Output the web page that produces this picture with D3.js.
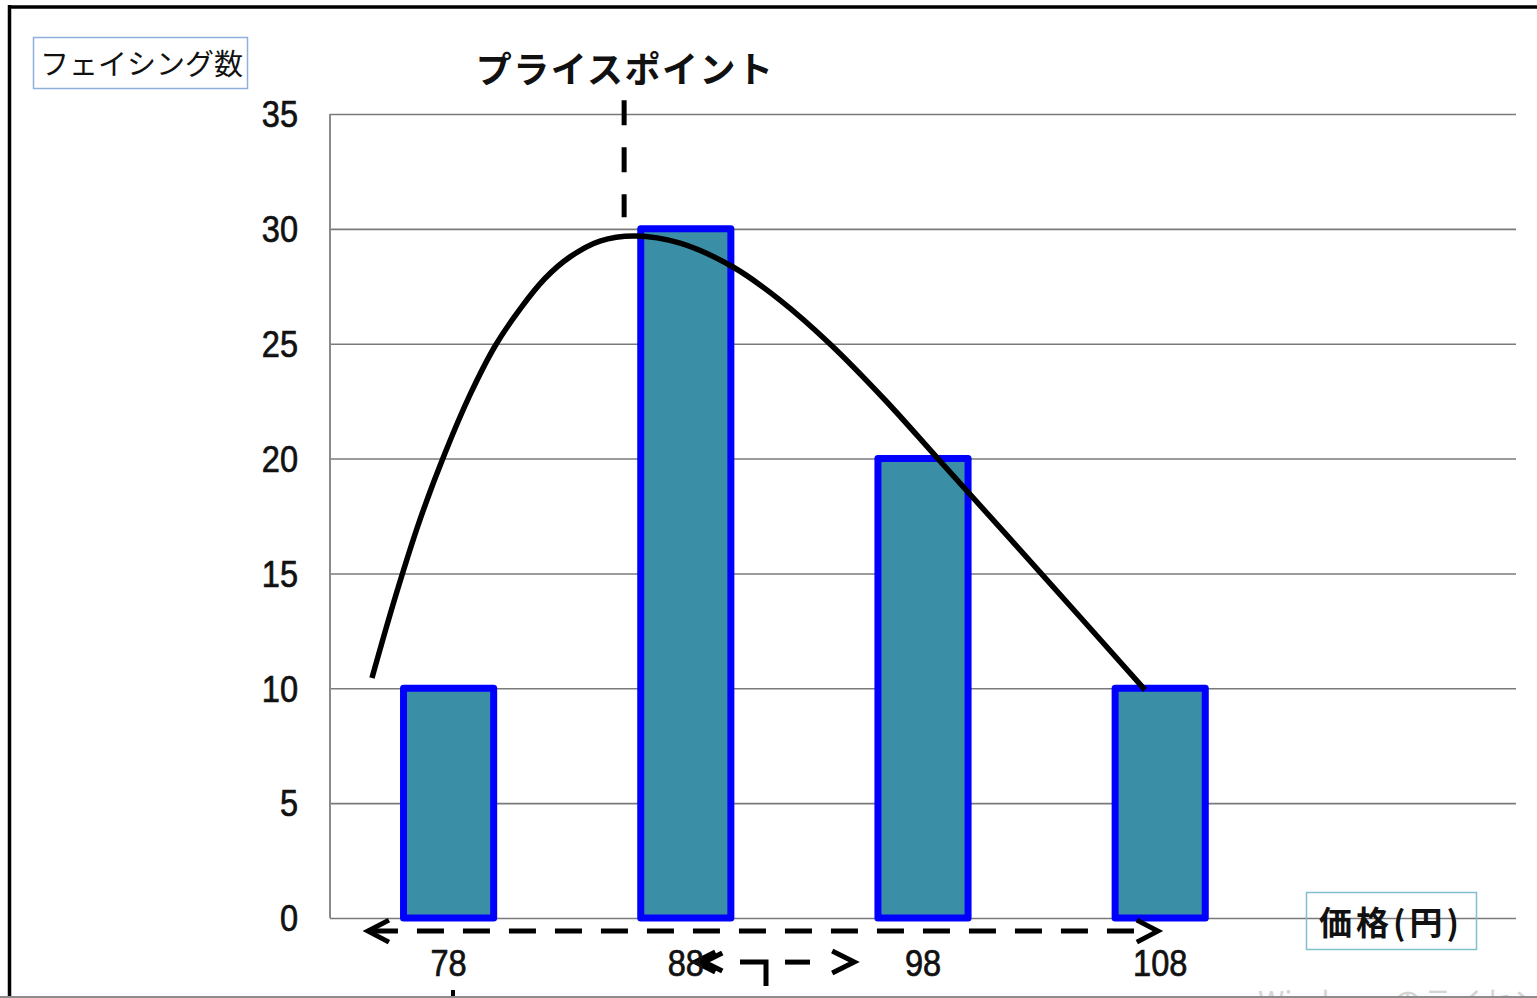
<!DOCTYPE html>
<html>
<head>
<meta charset="utf-8">
<script src="https://cdn.jsdelivr.net/npm/d3@7"></script>
<style>
  html, body { margin: 0; padding: 0; background: #fff; }
  svg { display: block; }
</style>
</head>
<body>
<div id="chart"></div>
<script>
// Facings per price point
const prices = [78, 88, 98, 108];
const facings = [10, 30, 20, 10];
const priceLabels = ["78", "88", "98", "108"];
const yTicks = [0, 5, 10, 15, 20, 25, 30, 35];

// Hand-drawn demand curve (price, facings)
const curvePrices = [74.77, 75.74, 76.79, 77.85, 78.90, 79.96, 81.01, 82.06, 83.12, 84.38, 85.86,
                     87.76, 89.99, 91.97, 94.08, 96.40, 98.72, 102.93, 107.36];
const curveValues = [10.45, 13.93, 17.33, 20.24, 22.77, 24.90, 26.51, 27.84, 28.78, 29.47, 29.69,
                     29.38, 28.34, 26.90, 24.99, 22.55, 19.89, 15.06, 9.93];

// Price point marker and range arrows
const pricePoint = 85.4;
const pricePointSpan = [35.6, 30.5];
const rangeArrow = { from: 74.6, to: 107.9, level: -0.57 };
const subArrow = { from: 88.4, to: 95.1, level: -1.92 };

const W = 1537, H = 998;
const svg = d3.select("#chart").append("svg")
  .attr("width", W).attr("height", H)
  .style("background", "#fff");

const x = d3.scaleLinear().domain([73, 123]).range([330, 1516]);
const y = d3.scaleLinear().domain([0, 35]).range([918, 114]);

// Outer frame
svg.append("line").attr("x1", 9.5).attr("x2", 9.5).attr("y1", 5).attr("y2", 996)
  .attr("stroke", "#000").attr("stroke-width", 3.5);
svg.append("line").attr("x1", 8).attr("x2", W).attr("y1", 7).attr("y2", 7)
  .attr("stroke", "#000").attr("stroke-width", 3.5);

// Gridlines via axis
const grid = svg.append("g").attr("transform", `translate(${x(73)},0)`)
  .call(d3.axisLeft(y).tickValues(yTicks).tickSize(-(x(123) - x(73))).tickFormat(""));
grid.select(".domain").remove();
grid.selectAll(".tick line").attr("stroke", "#7a7a7a").attr("stroke-width", 1.6);

// Y axis line
svg.append("line").attr("x1", x(73)).attr("x2", x(73)).attr("y1", y(35)).attr("y2", y(0))
  .attr("stroke", "#8a8a8a").attr("stroke-width", 2);

// Y tick labels
svg.append("g").selectAll("text").data(yTicks).join("text")
  .attr("transform", d => `translate(298,${y(d)}) scale(0.88,1)`)
  .attr("text-anchor", "end")
  .attr("dominant-baseline", "central")
  .attr("font-family", "'Liberation Sans', Arial, sans-serif")
  .attr("font-size", 37)
  .attr("fill", "#111").attr("stroke", "#111").attr("stroke-width", 0.7)
  .text(d => d);

// Bars
const bw = x(73 + 3.8) - x(73);
svg.append("g").selectAll("rect").data(prices).join("rect")
  .attr("x", (d) => x(d) - bw / 2)
  .attr("y", (d, i) => y(facings[i]))
  .attr("width", bw)
  .attr("height", (d, i) => y(0) - y(facings[i]))
  .attr("fill", "#3a8fa6")
  .attr("stroke", "#0000ff")
  .attr("stroke-width", 7)
  .attr("stroke-linejoin", "round");

// Demand curve
const curvePts = curvePrices.map((p, i) => [p, curveValues[i]]);
svg.append("path")
  .attr("d", d3.line().x(d => x(d[0])).y(d => y(d[1])).curve(d3.curveCatmullRom.alpha(0.5))(curvePts))
  .attr("fill", "none").attr("stroke", "#000").attr("stroke-width", 5.5);

// Price point marker
svg.append("line")
  .attr("x1", x(pricePoint)).attr("x2", x(pricePoint))
  .attr("y1", y(pricePointSpan[0])).attr("y2", y(pricePointSpan[1]))
  .attr("stroke", "#000").attr("stroke-width", 5).attr("stroke-dasharray", "25 22");

svg.append("text")
  .attr("x", x(pricePoint) + 1).attr("y", 67)
  .attr("text-anchor", "middle").attr("dominant-baseline", "central")
  .attr("font-family", "'Noto Sans CJK JP', sans-serif")
  .attr("font-weight", 700).attr("font-size", 36)
  .attr("letter-spacing", 1.5)
  .attr("fill", "#111")
  .text("プライスポイント");

// Dashed range arrows
function chevron(g, tx, ty, dir, len, half) {
  g.append("path")
    .attr("d", `M${tx + dir * len},${ty - half} L${tx},${ty} L${tx + dir * len},${ty + half}`)
    .attr("fill", "none").attr("stroke", "#000").attr("stroke-width", 5)
    .attr("stroke-linejoin", "miter");
}
const arrows = svg.append("g");
arrows.append("line")
  .attr("x1", x(rangeArrow.from) + 3).attr("x2", x(rangeArrow.to) - 3)
  .attr("y1", y(rangeArrow.level)).attr("y2", y(rangeArrow.level))
  .attr("stroke", "#000").attr("stroke-width", 5).attr("stroke-dasharray", "27 19");
chevron(arrows, x(rangeArrow.from), y(rangeArrow.level), 1, 21, 11);
chevron(arrows, x(rangeArrow.to), y(rangeArrow.level), -1, 21, 11);

// X labels
svg.append("g").selectAll("text").data(prices).join("text")
  .attr("transform", (d) => `translate(${x(d)},963) scale(0.88,1)`)
  .attr("text-anchor", "middle").attr("dominant-baseline", "central")
  .attr("font-family", "'Liberation Sans', Arial, sans-serif")
  .attr("font-size", 37)
  .attr("fill", "#111").attr("stroke", "#111").attr("stroke-width", 0.7)
  .text((d, i) => priceLabels[i]);

// Secondary arrow between the middle prices
const sy = y(subArrow.level);
chevron(arrows, x(subArrow.from), sy, 1, 20, 10);
chevron(arrows, x(subArrow.from) + 9, sy, 1, 18, 9);
arrows.append("path")
  .attr("d", `M740,${sy} L766,${sy} L766,986`)
  .attr("fill", "none").attr("stroke", "#000").attr("stroke-width", 5);
arrows.append("line").attr("x1", 785).attr("x2", 810).attr("y1", sy).attr("y2", sy)
  .attr("stroke", "#000").attr("stroke-width", 5);
chevron(arrows, x(subArrow.to), sy, -1, 22, 11);
arrows.append("line").attr("x1", 453).attr("x2", 453).attr("y1", 990).attr("y2", 998)
  .attr("stroke", "#000").attr("stroke-width", 4);

// Axis title boxes
svg.append("rect").attr("x", 33.5).attr("y", 37.5).attr("width", 214).attr("height", 51)
  .attr("fill", "none").attr("stroke", "#8fb0dc").attr("stroke-width", 1.5);
svg.append("text")
  .attr("x", 40).attr("y", 62).attr("dominant-baseline", "central")
  .attr("font-family", "'Noto Sans CJK JP', sans-serif")
  .attr("font-size", 29).attr("fill", "#111")
  .text("フェイシング数");

svg.append("rect").attr("x", 1306.5).attr("y", 892.5).attr("width", 170).attr("height", 57)
  .attr("fill", "none").attr("stroke", "#7fc0cc").attr("stroke-width", 1.5);
svg.append("text")
  .attr("x", 1391).attr("y", 921).attr("text-anchor", "middle").attr("dominant-baseline", "central")
  .attr("font-family", "'Noto Sans CJK JP', sans-serif")
  .attr("font-weight", 700)
  .attr("font-size", 33).attr("letter-spacing", 4).attr("fill", "#111")
  .text("価格(円)");

// Bottom edge and faint overlay text
svg.append("text")
  .attr("x", 1258).attr("y", 1013)
  .attr("font-family", "'Noto Sans CJK JP', sans-serif")
  .attr("font-size", 30).attr("fill", "#d4d4d4")
  .text("Windows のライセンス認証");
svg.append("rect").attr("x", 0).attr("y", 996).attr("width", W).attr("height", 2).attr("fill", "#8c8c8c");
</script>
</body>
</html>
